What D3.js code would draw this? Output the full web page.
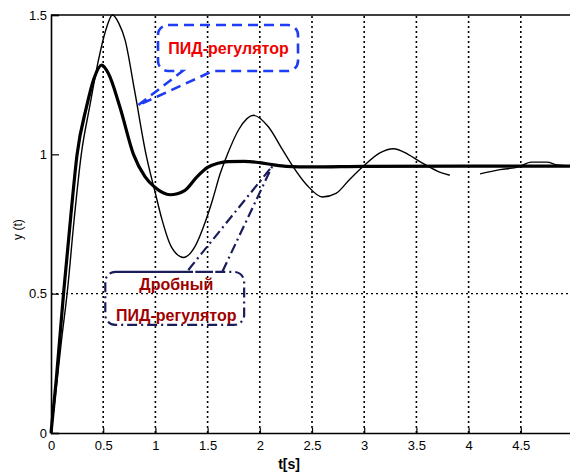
<!DOCTYPE html>
<html>
<head>
<meta charset="utf-8">
<script src="https://cdn.jsdelivr.net/npm/d3@7"></script>
<style>
  body { margin: 0; background: #fff; }
  svg { font-family: "Liberation Sans", Arial, sans-serif; }
</style>
</head>
<body>
<div id="chart"></div>
<script>
// step response, classic PID (thin line); null marks a gap in the trace
var pidT = [0, 0.05, 0.1, 0.16, 0.22, 0.29, 0.37, 0.45, 0.52, 0.59, 0.65, 0.71, 0.8, 0.91, 1.0, 1.06, 1.15, 1.27, 1.38, 1.48, 1.55, 1.62, 1.69, 1.8, 1.94, 2.08, 2.22, 2.32, 2.45, 2.6, 2.73, 2.86, 3.0, 3.15, 3.28, 3.42, 3.55, 3.7, 3.82, 3.95, 4.11, 4.3, 4.48, 4.6, 4.75, 4.85, 5.0];
var pidY = [0, 0.16, 0.33, 0.52, 0.76, 1.0, 1.17, 1.33, 1.44, 1.5, 1.47, 1.41, 1.23, 1.0, 0.86, 0.77, 0.67, 0.63, 0.67, 0.76, 0.84, 0.93, 1.0, 1.09, 1.14, 1.1, 1.015, 0.955, 0.89, 0.847, 0.86, 0.91, 0.96, 1.005, 1.02, 1.0, 0.97, 0.94, 0.925, null, 0.93, 0.945, 0.955, 0.972, 0.972, 0.962, 0.958];

// step response, fractional PID (thick line)
var fpidT = [0, 0.05, 0.12, 0.19, 0.25, 0.34, 0.41, 0.485, 0.55, 0.66, 0.79, 0.9, 1.0, 1.14, 1.28, 1.4, 1.5, 1.6, 1.69, 1.85, 2.0, 2.12, 2.25, 2.5, 3.0, 4.0, 5.0];
var fpidY = [0, 0.19, 0.5, 0.78, 1.0, 1.17, 1.27, 1.32, 1.29, 1.17, 1.0, 0.92, 0.88, 0.855, 0.87, 0.92, 0.953, 0.968, 0.974, 0.975, 0.97, 0.963, 0.957, 0.955, 0.957, 0.958, 0.958];

var xTicks = [0, 0.5, 1, 1.5, 2, 2.5, 3, 3.5, 4, 4.5];
var yTicks = [0, 0.5, 1, 1.5];
var xGrid = [0.5, 1, 1.5, 2, 2.5, 3, 3.5, 4, 4.5];
var yGrid = [0.5];

var width = 570, height = 475;
var margin = {top: 15, right: -3, bottom: 42, left: 51};

var svg = d3.select("#chart").append("svg")
    .attr("width", width)
    .attr("height", height);

var x = d3.scaleLinear().domain([0, 5]).range([margin.left, width - margin.right]);
var y = d3.scaleLinear().domain([0, 1.5]).range([height - margin.bottom, margin.top]);

// grid
svg.append("g").selectAll("line")
    .data(xGrid).enter().append("line")
    .attr("x1", d => x(d)).attr("x2", d => x(d))
    .attr("y1", y(0)).attr("y2", y(1.5))
    .attr("stroke", "#000").attr("stroke-width", 1.6)
    .attr("stroke-dasharray", "2,3");
svg.append("g").selectAll("line")
    .data(yGrid).enter().append("line")
    .attr("x1", x(0)).attr("x2", x(5))
    .attr("y1", d => y(d)).attr("y2", d => y(d))
    .attr("stroke", "#000").attr("stroke-width", 1.4)
    .attr("stroke-dasharray", "2,3");

// axes
var xAxis = svg.append("g")
    .attr("transform", "translate(0," + y(0) + ")")
    .call(d3.axisBottom(x).tickValues(xTicks).tickSize(-5).tickPadding(8).tickFormat(d3.format("")));
var yAxis = svg.append("g")
    .attr("transform", "translate(" + x(0) + ",0)")
    .call(d3.axisLeft(y).tickValues(yTicks).tickSize(-8).tickPadding(4).tickFormat(d3.format("")));
[xAxis, yAxis].forEach(function(g) {
    g.select(".domain").attr("stroke", "#000").attr("stroke-width", 1.6);
    g.selectAll(".tick line").attr("stroke", "#000").attr("stroke-width", 1.2);
    g.selectAll("text").attr("font-size", 13).attr("fill", "#000");
});
// top border
svg.append("line")
    .attr("x1", x(0)).attr("x2", x(5))
    .attr("y1", y(1.5)).attr("y2", y(1.5))
    .attr("stroke", "#000").attr("stroke-width", 1.6);

// curves
var pid = pidT.map((t, i) => ({t: t, v: pidY[i]}));
var fpid = fpidT.map((t, i) => ({t: t, v: fpidY[i]}));

var line = d3.line()
    .defined(d => d.v !== null)
    .x(d => x(d.t))
    .y(d => y(d.v))
    .curve(d3.curveMonotoneX);

svg.append("path").datum(pid)
    .attr("d", line)
    .attr("fill", "none").attr("stroke", "#000").attr("stroke-width", 1.4);
svg.append("path").datum(fpid)
    .attr("d", line)
    .attr("fill", "none").attr("stroke", "#000").attr("stroke-width", 3.2);

// axis titles
svg.append("text")
    .attr("x", x(2.28)).attr("y", height - 6)
    .attr("text-anchor", "middle")
    .attr("font-size", 14).attr("font-weight", "bold")
    .text("t[s]");
svg.append("text")
    .attr("transform", "translate(22," + y(0.73) + ") rotate(-90)")
    .attr("text-anchor", "middle")
    .attr("font-size", 12)
    .text("y (t)");

// callout: rounded box with a pointed tail, all in data coords
function callout(box, tail, r) {
    var x0 = x(box.t0), x1 = x(box.t1), y0 = y(box.v0), y1 = y(box.v1);
    var p = d3.path();
    p.moveTo(x0 + r, y0);
    p.lineTo(x1 - r, y0);
    p.arcTo(x1, y0, x1, y0 + r, r);
    p.lineTo(x1, y1 - r);
    p.arcTo(x1, y1, x1 - r, y1, r);
    if (tail.side === "bottom") {
        p.lineTo(x(tail.b), y1);
        p.lineTo(x(tail.tipT), y(tail.tipV));
        p.lineTo(x(tail.a), y1);
    }
    p.lineTo(x0 + r, y1);
    p.arcTo(x0, y1, x0, y1 - r, r);
    p.lineTo(x0, y0 + r);
    p.arcTo(x0, y0, x0 + r, y0, r);
    if (tail.side === "top") {
        p.lineTo(x(tail.a), y0);
        p.lineTo(x(tail.tipT), y(tail.tipV));
        p.lineTo(x(tail.b), y0);
    }
    p.closePath();
    return p.toString();
}

// classic PID label
svg.append("path")
    .attr("d", callout({t0: 1.025, t1: 2.366, v0: 1.464, v1: 1.299},
                       {side: "bottom", a: 1.26, b: 1.55, tipT: 0.83, tipV: 1.175}, 10))
    .attr("fill", "none").attr("stroke", "#1f3cf5").attr("stroke-width", 2.6)
    .attr("stroke-dasharray", "10,6");
svg.append("text")
    .attr("x", x(1.7)).attr("y", y(1.381) + 6)
    .attr("text-anchor", "middle")
    .attr("font-size", 16).attr("font-weight", "bold").attr("fill", "#f00000")
    .text("ПИД-регулятор");

// fractional PID label
svg.append("path")
    .attr("d", callout({t0: 0.52, t1: 1.85, v0: 0.578, v1: 0.388},
                       {side: "top", a: 1.3, b: 1.64, tipT: 2.12, tipV: 0.958}, 10))
    .attr("fill", "none").attr("stroke", "#1a1d5a").attr("stroke-width", 2.2)
    .attr("stroke-dasharray", "10,4,2,4");
svg.append("text")
    .attr("x", x(1.2)).attr("y", y(0.533) + 6)
    .attr("text-anchor", "middle")
    .attr("font-size", 16).attr("font-weight", "bold").attr("fill", "#a00000")
    .text("Дробный");
svg.append("text")
    .attr("x", x(1.2)).attr("y", y(0.425) + 6)
    .attr("text-anchor", "middle")
    .attr("font-size", 16).attr("font-weight", "bold").attr("fill", "#a00000")
    .text("ПИД-регулятор");
</script>
</body>
</html>
